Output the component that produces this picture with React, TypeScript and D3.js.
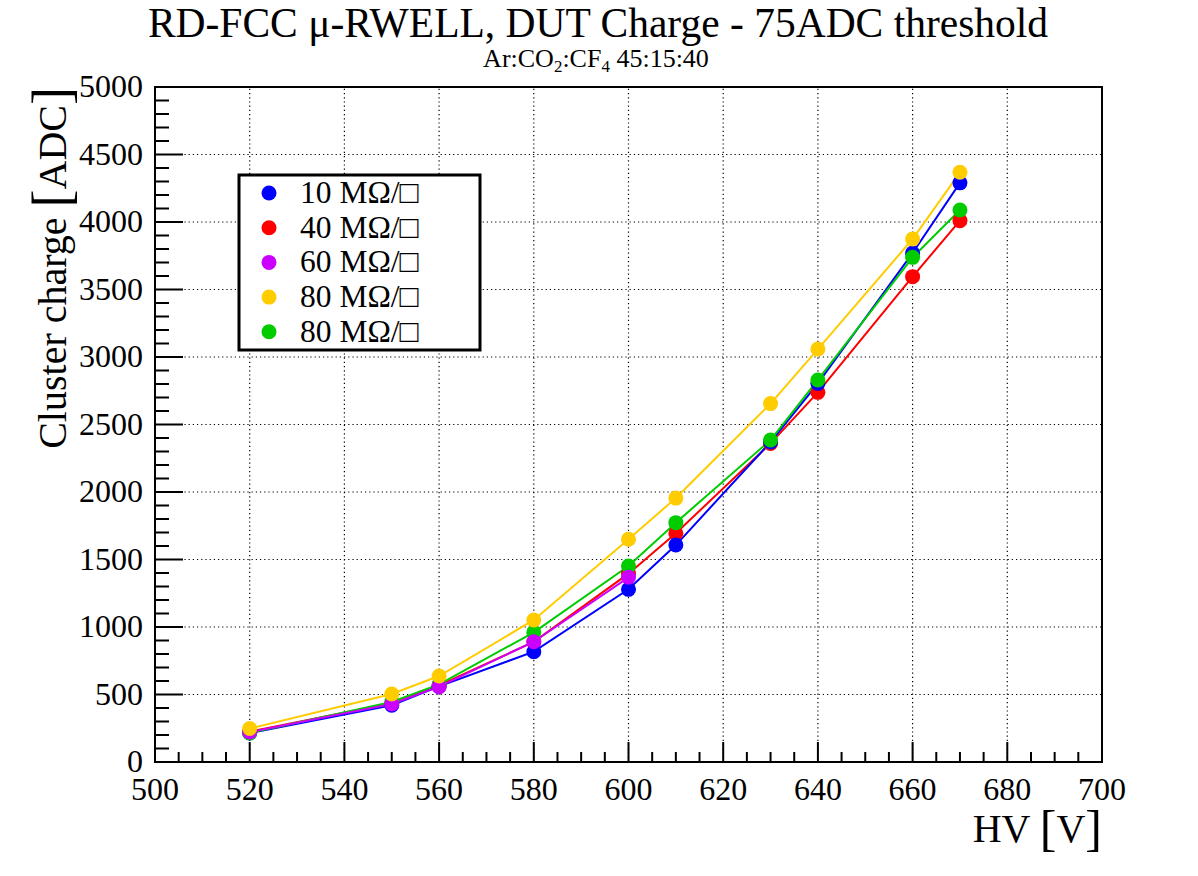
import * as d3 from "d3";

const hv = [520, 550, 560, 580, 600, 610, 630, 640, 660, 670];
const hvPurple = [520, 550, 560, 580, 600];

const charge10 = [215, 420, 560, 817, 1279, 1607, 2370, 2805, 3770, 4290];
const charge40 = [225, 435, 568, 890, 1395, 1694, 2360, 2738, 3595, 4010];
const charge60 = [222, 430, 558, 891, 1368];
const charge80a = [248, 504, 637, 1052, 1650, 1955, 2655, 3059, 3874, 4368];
const charge80b = [215, 445, 575, 960, 1452, 1773, 2385, 2830, 3738, 4089];

const xTicks = [500, 520, 540, 560, 580, 600, 620, 640, 660, 680, 700];
const yTicks = [0, 500, 1000, 1500, 2000, 2500, 3000, 3500, 4000, 4500, 5000];

const legendLabels = ["10 MΩ/□", "40 MΩ/□", "60 MΩ/□", "80 MΩ/□", "80 MΩ/□"];

const series = [
  { label: legendLabels[0], color: "#0000ff", x: hv, y: charge10 },
  { label: legendLabels[1], color: "#ff0000", x: hv, y: charge40 },
  { label: legendLabels[2], color: "#cc00ff", x: hvPurple, y: charge60 },
  { label: legendLabels[3], color: "#ffcc00", x: hv, y: charge80a },
  { label: legendLabels[4], color: "#00cc00", x: hv, y: charge80b },
];
// drawing order (last on top)
const drawOrder = [1, 0, 4, 2, 3];

const W = 1198;
const H = 876;
const margin = { left: 155, right: 96, top: 87, bottom: 114 };
const font = "'Liberation Serif', 'Times New Roman', serif";

export default function App() {
  const x = d3.scaleLinear().domain([500, 700]).range([margin.left, W - margin.right]);
  const y = d3.scaleLinear().domain([0, 5000]).range([H - margin.bottom, margin.top]);
  const x0 = margin.left;
  const x1 = W - margin.right;
  const y0 = H - margin.bottom;
  const y1 = margin.top;

  const xMinor = d3.range(500, 701, 5).filter((v) => v % 20 !== 0);
  const yMinor = d3.range(0, 5001, 100).filter((v) => v % 500 !== 0);

  const line = d3
    .line<[number, number]>()
    .x((d) => x(d[0]))
    .y((d) => y(d[1]));

  return (
    <svg
      width={W}
      height={H}
      style={{ position: "absolute", left: 0, top: 0, background: "#fff" }}
      fontFamily={font}
    >
      {/* grid */}
      <g stroke="#000" strokeWidth={1.2} strokeDasharray="1.2,3">
        {xTicks.slice(1, -1).map((t) => (
          <line key={"gx" + t} x1={x(t)} x2={x(t)} y1={y0} y2={y1} />
        ))}
        {yTicks.slice(1, -1).map((t) => (
          <line key={"gy" + t} x1={x0} x2={x1} y1={y(t)} y2={y(t)} />
        ))}
      </g>

      {/* series */}
      {drawOrder.map((i) => {
        const s = series[i];
        const pts = s.x.map((v, k) => [v, s.y[k]] as [number, number]);
        return (
          <g key={"s" + i}>
            <path d={line(pts) || ""} fill="none" stroke={s.color} strokeWidth={2} />
          </g>
        );
      })}
      {drawOrder.map((i) => {
        const s = series[i];
        return (
          <g key={"m" + i} fill={s.color}>
            {s.x.map((v, k) => (
              <circle key={k} cx={x(v)} cy={y(s.y[k])} r={7.5} />
            ))}
          </g>
        );
      })}

      {/* frame */}
      <rect x={x0} y={y1} width={x1 - x0} height={y0 - y1} fill="none" stroke="#000" strokeWidth={2} />

      {/* ticks */}
      <g stroke="#000" strokeWidth={2}>
        {xTicks.map((t) => (
          <line key={"xt" + t} x1={x(t)} x2={x(t)} y1={y0} y2={y0 - 20} />
        ))}
        {xMinor.map((t) => (
          <line key={"xm" + t} x1={x(t)} x2={x(t)} y1={y0} y2={y0 - 10} />
        ))}
        {yTicks.map((t) => (
          <line key={"yt" + t} x1={x0} x2={x0 + 28} y1={y(t)} y2={y(t)} />
        ))}
        {yMinor.map((t) => (
          <line key={"ym" + t} x1={x0} x2={x0 + 14} y1={y(t)} y2={y(t)} />
        ))}
      </g>

      {/* tick labels */}
      <g fontSize={32} fill="#000">
        {xTicks.map((t) => (
          <text key={"xl" + t} x={x(t)} y={y0 + 38} textAnchor="middle">
            {t}
          </text>
        ))}
        {yTicks.map((t) => (
          <text key={"yl" + t} x={x0 - 12} y={y(t) + 10} textAnchor="end">
            {t}
          </text>
        ))}
      </g>

      {/* axis titles */}
      <text x={x1} y={842} textAnchor="end" fontSize={40} fill="#000">
        HV <tspan fontSize={50} dy={3}>[</tspan>
        <tspan fontSize={40} dy={-3}>V</tspan>
        <tspan fontSize={50} dy={3}>]</tspan>
      </text>
      <text
        transform={`translate(66,${y1}) rotate(-90)`}
        textAnchor="end"
        fontSize={40}
        fill="#000"
      >
        Cluster charge <tspan fontSize={54} dy={4}>[</tspan>
        <tspan fontSize={40} dy={-4}>ADC</tspan>
        <tspan fontSize={54} dy={4}>]</tspan>
      </text>

      {/* title */}
      <text x={598} y={37} textAnchor="middle" fontSize={41.5} fill="#000">
        RD-FCC μ-RWELL, DUT Charge - 75ADC threshold
      </text>
      <text x={596} y={67} textAnchor="middle" fontSize={26} fill="#000">
        Ar:CO<tspan fontSize={17} dy={5}>2</tspan>
        <tspan dy={-5}>:CF</tspan>
        <tspan fontSize={17} dy={5}>4</tspan>
        <tspan dy={-5}> 45:15:40</tspan>
      </text>

      {/* legend */}
      <rect x={239} y={175} width={241} height={175} fill="#fff" stroke="#000" strokeWidth={3} />
      {series.map((s, i) => (
        <g key={"lg" + i}>
          <circle cx={269} cy={193 + i * 34.7} r={7.5} fill={s.color} />
          <text x={300} y={193 + i * 34.7 + 10} fontSize={31.5} fill="#000">
            {s.label}
          </text>
        </g>
      ))}
    </svg>
  );
}
